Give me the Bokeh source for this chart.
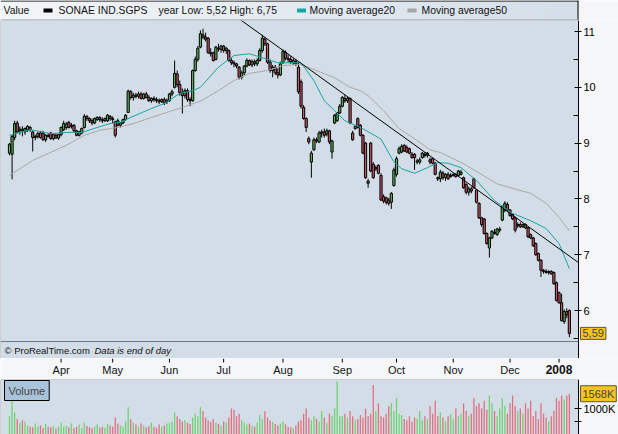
import numpy as np
from bokeh.plotting import figure
from bokeh.models import ColumnDataSource, LinearAxis, FixedTicker, Range1d, Label, BoxAnnotation
from bokeh.layouts import column
from bokeh.embed import file_html
from bokeh.resources import INLINE
from bokeh.core.properties import value

# ---------------- data (daily, 2 Mar 2007 .. 9 Jan 2008, trading-day index) ----------------
instrument = "SONAE IND.SGPS"
year_low, year_high = 5.52, 6.75

open_ = [
    8.82, 8.80, 9.10, 9.36, 9.22, 9.25, 9.20, 9.24, 9.28, 9.20,
    9.10, 9.12, 9.18, 9.18, 9.06, 9.14, 9.18, 9.08, 9.14, 9.09,
    9.15, 9.24, 9.28, 9.37, 9.30, 9.32, 9.22, 9.14, 9.18, 9.28,
    9.48, 9.44, 9.40, 9.36, 9.42, 9.46, 9.42, 9.40, 9.40, 9.48,
    9.44, 9.38, 9.40, 9.32, 9.36, 9.42, 9.55, 9.92, 9.82, 9.86,
    9.84, 9.88, 9.80, 9.88, 9.82, 9.76, 9.80, 9.78, 9.76, 9.74,
    9.78, 9.74, 9.76, 9.88, 10.00, 10.24, 10.05, 9.90, 9.85, 9.94,
    9.78, 9.76, 10.30, 10.50, 10.72, 10.94, 10.90, 10.88, 10.62, 10.62,
    10.50, 10.70, 10.68, 10.74, 10.66, 10.66, 10.48, 10.44, 10.42, 10.36,
    10.18, 10.26, 10.38, 10.48, 10.40, 10.46, 10.42, 10.48, 10.66, 10.86,
    10.78, 10.45, 10.30, 10.36, 10.26, 10.22, 10.44, 10.62, 10.52, 10.50,
    10.44, 10.46, 10.36, 10.10, 9.64, 9.44, 9.08, 8.66, 8.88, 9.06,
    9.02, 9.18, 9.20, 9.16, 9.22, 8.84, 9.36, 9.40, 9.54, 9.66,
    9.80, 9.76, 9.80, 9.18, 9.26, 9.44, 9.32, 9.14, 9.00, 8.32,
    9.00, 8.62, 8.54, 8.60, 8.42, 8.04, 8.02, 7.98, 7.94, 8.24,
    8.44, 8.82, 8.84, 8.96, 8.92, 8.90, 8.80, 8.80, 8.66, 8.66,
    8.74, 8.80, 8.78, 8.70, 8.72, 8.64, 8.38, 8.36, 8.46, 8.38,
    8.44, 8.40, 8.42, 8.44, 8.42, 8.44, 8.38, 8.26, 8.12, 8.18,
    8.36, 8.16, 7.92, 7.66, 7.64, 7.38, 7.12, 7.30, 7.40, 7.36,
    7.44, 7.62, 7.80, 7.90, 7.80, 7.72, 7.66, 7.52, 7.54, 7.50,
    7.54, 7.48, 7.36, 7.30, 7.20, 7.02, 6.90, 6.72, 6.70, 6.68,
    6.70, 6.68, 6.50, 6.32, 6.14, 5.80, 5.98, 6.00,
]
high = [
    9.00, 9.15, 9.40, 9.40, 9.30, 9.30, 9.28, 9.32, 9.31, 9.22,
    9.15, 9.20, 9.22, 9.22, 9.16, 9.18, 9.20, 9.16, 9.17, 9.16,
    9.30, 9.40, 9.38, 9.40, 9.36, 9.34, 9.24, 9.22, 9.28, 9.52,
    9.50, 9.46, 9.44, 9.46, 9.48, 9.48, 9.46, 9.46, 9.52, 9.50,
    9.48, 9.40, 9.44, 9.38, 9.44, 9.52, 9.96, 9.95, 9.90, 9.90,
    9.92, 9.92, 9.90, 9.92, 9.86, 9.82, 9.84, 9.82, 9.80, 9.80,
    9.82, 9.80, 9.90, 9.96, 10.48, 10.30, 10.12, 9.98, 9.98, 9.98,
    9.82, 10.32, 10.55, 10.74, 11.02, 11.05, 10.98, 10.90, 10.70, 10.64,
    10.74, 10.78, 10.76, 10.76, 10.72, 10.68, 10.52, 10.48, 10.44, 10.38,
    10.30, 10.40, 10.52, 10.50, 10.50, 10.50, 10.52, 10.70, 10.94, 10.90,
    10.80, 10.50, 10.40, 10.40, 10.34, 10.46, 10.68, 10.66, 10.58, 10.56,
    10.52, 10.50, 10.44, 10.14, 9.68, 9.46, 9.12, 8.86, 9.10, 9.10,
    9.22, 9.24, 9.26, 9.26, 9.24, 9.06, 9.52, 9.56, 9.70, 9.84,
    9.86, 9.84, 9.82, 9.22, 9.32, 9.46, 9.34, 9.16, 9.02, 8.36,
    9.02, 8.66, 8.60, 8.62, 8.46, 8.08, 8.04, 8.02, 8.12, 8.56,
    8.76, 8.94, 8.98, 8.98, 8.96, 8.92, 8.84, 8.82, 8.72, 8.74,
    8.84, 8.84, 8.84, 8.74, 8.74, 8.66, 8.40, 8.52, 8.50, 8.46,
    8.48, 8.46, 8.46, 8.46, 8.52, 8.52, 8.40, 8.28, 8.22, 8.22,
    8.38, 8.18, 7.94, 7.68, 7.66, 7.40, 7.32, 7.44, 7.46, 7.48,
    7.50, 7.88, 7.96, 7.94, 7.82, 7.74, 7.68, 7.58, 7.58, 7.56,
    7.56, 7.50, 7.38, 7.32, 7.22, 7.04, 6.92, 6.74, 6.74, 6.72,
    6.72, 6.70, 6.52, 6.34, 6.30, 6.02, 6.04, 6.02,
]
low = [
    8.78, 8.35, 9.05, 9.18, 9.15, 9.12, 9.15, 9.20, 9.20, 8.85,
    9.05, 9.08, 9.08, 9.04, 9.02, 9.10, 9.06, 9.05, 9.08, 9.06,
    9.12, 9.22, 9.24, 9.26, 9.26, 9.20, 9.12, 9.12, 9.16, 9.26,
    9.40, 9.36, 9.32, 9.34, 9.40, 9.38, 9.36, 9.38, 9.38, 9.40,
    9.36, 9.10, 9.30, 9.28, 9.34, 9.40, 9.54, 9.78, 9.76, 9.80,
    9.80, 9.78, 9.78, 9.80, 9.74, 9.72, 9.74, 9.72, 9.70, 9.72,
    9.68, 9.70, 9.74, 9.84, 9.98, 10.00, 9.85, 9.53, 9.80, 9.74,
    9.66, 9.74, 10.28, 10.46, 10.70, 10.86, 10.82, 10.60, 10.55, 10.46,
    10.48, 10.64, 10.62, 10.62, 10.60, 10.46, 10.40, 10.36, 10.34, 10.14,
    10.14, 10.22, 10.36, 10.38, 10.36, 10.38, 10.38, 10.46, 10.62, 10.74,
    10.42, 10.26, 10.18, 10.22, 10.16, 10.20, 10.42, 10.48, 10.44, 10.42,
    10.40, 10.38, 9.88, 9.62, 9.42, 9.20, 8.98, 8.38, 8.86, 9.00,
    9.00, 9.10, 9.10, 9.12, 8.98, 8.72, 9.34, 9.38, 9.52, 9.64,
    9.72, 9.72, 9.34, 9.04, 9.24, 9.26, 9.12, 8.80, 8.36, 8.20,
    8.48, 8.36, 8.50, 8.44, 7.96, 7.92, 7.90, 7.88, 7.82, 8.22,
    8.40, 8.80, 8.82, 8.84, 8.82, 8.80, 8.72, 8.52, 8.62, 8.62,
    8.72, 8.74, 8.74, 8.62, 8.62, 8.42, 8.32, 8.30, 8.34, 8.32,
    8.34, 8.38, 8.40, 8.38, 8.40, 8.42, 8.18, 8.08, 8.06, 8.10,
    8.18, 7.92, 7.64, 7.50, 7.36, 7.18, 6.95, 7.28, 7.36, 7.34,
    7.40, 7.60, 7.76, 7.78, 7.68, 7.62, 7.40, 7.48, 7.48, 7.48,
    7.46, 7.30, 7.28, 7.14, 6.98, 6.88, 6.60, 6.66, 6.66, 6.64,
    6.64, 6.46, 6.16, 6.12, 5.80, 5.76, 5.86, 5.52,
]
close = [
    8.98, 9.12, 9.35, 9.20, 9.25, 9.22, 9.26, 9.30, 9.24, 9.10,
    9.12, 9.17, 9.10, 9.06, 9.14, 9.12, 9.08, 9.15, 9.09, 9.15,
    9.28, 9.35, 9.34, 9.28, 9.32, 9.22, 9.14, 9.20, 9.26, 9.48,
    9.44, 9.40, 9.36, 9.44, 9.46, 9.42, 9.40, 9.44, 9.50, 9.44,
    9.42, 9.14, 9.32, 9.36, 9.42, 9.50, 9.93, 9.82, 9.86, 9.84,
    9.88, 9.80, 9.88, 9.82, 9.76, 9.80, 9.78, 9.76, 9.74, 9.78,
    9.72, 9.76, 9.88, 9.92, 10.25, 10.05, 9.90, 9.85, 9.94, 9.78,
    9.76, 10.30, 10.50, 10.70, 10.96, 10.90, 10.86, 10.62, 10.60, 10.48,
    10.72, 10.68, 10.74, 10.66, 10.70, 10.48, 10.44, 10.42, 10.38, 10.18,
    10.26, 10.38, 10.48, 10.40, 10.46, 10.42, 10.48, 10.66, 10.88, 10.78,
    10.45, 10.30, 10.36, 10.26, 10.22, 10.42, 10.64, 10.52, 10.50, 10.46,
    10.48, 10.42, 9.92, 9.66, 9.44, 9.28, 9.02, 8.82, 9.06, 9.04,
    9.18, 9.20, 9.14, 9.22, 9.02, 9.04, 9.50, 9.54, 9.66, 9.82,
    9.76, 9.80, 9.36, 9.06, 9.30, 9.28, 9.14, 8.82, 8.38, 8.28,
    8.50, 8.38, 8.56, 8.46, 7.98, 7.96, 7.94, 7.92, 8.10, 8.52,
    8.72, 8.90, 8.94, 8.86, 8.84, 8.82, 8.74, 8.74, 8.68, 8.70,
    8.82, 8.78, 8.82, 8.66, 8.64, 8.44, 8.36, 8.48, 8.38, 8.44,
    8.36, 8.42, 8.44, 8.40, 8.50, 8.48, 8.20, 8.12, 8.18, 8.14,
    8.20, 7.94, 7.66, 7.54, 7.38, 7.20, 7.30, 7.42, 7.38, 7.46,
    7.46, 7.86, 7.92, 7.80, 7.70, 7.64, 7.44, 7.54, 7.50, 7.54,
    7.48, 7.32, 7.30, 7.16, 7.00, 6.90, 6.72, 6.70, 6.68, 6.70,
    6.66, 6.48, 6.18, 6.14, 5.82, 5.98, 5.92, 5.59,
]
volume_k = [
    700, 1400, 850, 600, 450, 550, 500, 350, 300, 280, 420, 300, 350, 250, 400, 300, 280, 330, 220, 300,
    450, 300, 350, 280, 420, 250, 300, 380, 260, 450, 330, 280, 240, 300, 380, 260, 300, 250, 400, 350,
    300, 650, 420, 350, 300, 500, 1050, 600, 450, 380, 300, 420, 350, 280, 320, 450, 300, 260, 380, 300, 350, 420,
    450, 500, 850, 700, 600, 500, 550, 450, 400, 650, 800, 700, 1050, 900, 650, 550, 480, 600, 450, 400, 350,
    500, 450, 650, 1000, 950, 700, 800, 550, 450, 380, 420, 350, 300, 450, 750, 600, 900, 650, 550, 480, 400, 350,
    420, 500, 380, 300, 280, 250, 350, 500, 550, 800, 1000, 650, 550, 700, 600, 500, 900, 650, 450, 800, 700, 1000, 2050,
    700, 700, 800, 650, 900, 700, 550, 600, 750, 650, 1000, 700, 800, 1900, 900, 1200, 700, 650, 800, 1100,
    1200, 900, 1400, 800, 750, 600, 550, 700, 500, 650, 600, 900, 550, 700, 600, 1100, 800, 1300, 700, 850, 650, 500, 700,
    800, 600, 1000, 700, 800, 1200, 900, 700, 800, 1400, 1100, 1200, 1000, 1300, 950, 1500, 1200, 900, 700, 1000, 1400, 1100,
    800, 1200, 1500, 1100, 900, 1000, 800, 1200, 1000, 1300, 700, 900, 600, 1200, 800, 650, 500, 700, 900,
    1400, 1300, 1500, 1350, 1500, 1568,
]
# moving averages (trading-day index, value)
ma20_idx = [0, 8, 16, 22, 28, 34, 39, 43, 47, 55, 60, 66, 71, 74, 81, 87, 93, 98, 104, 109,
            113, 118, 122, 126, 130, 136, 140, 144, 149, 152, 157, 162, 166, 170, 175, 181,
            188, 195, 202, 208, 213, 217]
ma20_val = [9.14, 9.24, 9.17, 9.19, 9.19, 9.28, 9.35, 9.37, 9.46, 9.62, 9.71, 9.89, 9.94, 10.00,
            10.36, 10.57, 10.60, 10.53, 10.44, 10.44, 10.44, 10.12, 9.76, 9.58, 9.40, 9.28, 9.18,
            9.07, 8.66, 8.54, 8.46, 8.56, 8.65, 8.64, 8.56, 8.33, 7.97, 7.74, 7.61, 7.47, 7.20, 6.75]
ma50_idx = [0, 9, 22, 29, 35, 42, 48, 55, 61, 67, 74, 81, 87, 93, 100, 106, 113, 119, 126, 132,
            136, 139, 145, 151, 157, 163, 167, 176, 189, 195, 202, 208, 213, 217]
ma50_val = [8.42, 8.69, 8.96, 9.14, 9.23, 9.28, 9.35, 9.46, 9.55, 9.64, 9.75, 9.94, 10.12, 10.25,
            10.30, 10.39, 10.41, 10.30, 10.17, 10.00, 9.94, 9.85, 9.58, 9.26, 9.08, 8.88, 8.83,
            8.63, 8.27, 8.19, 8.10, 7.92, 7.67, 7.43]
# hand-drawn trend line
trend_idx = [89.5, 220.5]
trend_val = [11.21, 6.86]
# x-axis labels (trading-day index of month start)
month_idx = [20, 40, 62, 83, 106, 129, 150, 172, 194]
month_lbl = ["Apr", "May", "Jun", "Jul", "Aug", "Sep", "Oct", "Nov", "Dec"]
year_idx = [213]
year_lbl = ["2008"]
price_ticks = [6, 7, 8, 9, 10, 11]
price_minor = [5.5, 6.5, 7.5, 8.5, 9.5, 10.5]
vol_ticks = [500, 1000]

# ---------------- layout / style ----------------
W = 618
FW = 578                      # width of the framed chart area (px)
PXD = 2.58                    # px per trading day
H_HEAD, H_PRICE, H_MONTH, H_VOL = 20, 338, 21, 55
X0 = -9 / PXD
X1 = X0 + FW / PXD            # right edge of the chart frame (index units)
XE = X0 + W / PXD             # right edge of the whole canvas (index units)
PPU = 55.8                    # px per price unit
Y1 = 6 + 290 / PPU
Y0 = Y1 - H_PRICE / PPU
STRIP_TOP = 6 - 31 / PPU
VMAX = H_VOL / 26.0 * 1000
FONT = "Liberation Sans"
PLOT_BG = "#d3dde7"
PAGE_BG = "#f5f6f8"
UP, DOWN = "#5fb35f", "#c4586a"
VUP, VDOWN = "#6fd36f", "#e0707f"
MA20_C, MA50_C = "#1aa3a3", "#a8a8a8"
YELLOW = "#f6c41c"

N = min(map(len, [open_, high, low, close, volume_k]))
xi = np.arange(N)
o = np.array(open_[:N]); c = np.array(close[:N])
up = c >= o
src = ColumnDataSource(dict(
    x=xi, top=np.maximum(o, c), bottom=np.minimum(o, c),
    high=high[:N], low=low[:N], color=np.where(up, UP, DOWN),
    vol=volume_k[:N], vcolor=np.where(up, VUP, VDOWN)))


def base_fig(height, x_range, y_range):
    f = figure(width=W, height=height, x_range=x_range, y_range=y_range,
               output_backend="svg", toolbar_location=None,
               x_axis_location=None, y_axis_location=None,
               min_border_left=0, min_border_right=0, min_border_top=0, min_border_bottom=0,
               background_fill_color=PAGE_BG, border_fill_color=PAGE_BG, outline_line_color=None)
    f.grid.visible = False
    return f


def right_axis(ticks, minor, overrides=None):
    ax = LinearAxis(ticker=FixedTicker(ticks=ticks, minor_ticks=minor), fixed_location=X1,
                    major_label_text_font=FONT, major_label_text_font_size="11px",
                    major_label_text_color="black", axis_line_color="black",
                    major_tick_line_color="black", minor_tick_line_color="black",
                    major_tick_in=4, major_tick_out=3, minor_tick_in=5, minor_tick_out=0,
                    major_label_standoff=2)
    if overrides:
        ax.major_label_overrides = overrides
    return ax


def tag(x, y, text):
    return Label(x=x, y=y, x_offset=2, text=text, text_font=FONT, text_font_size="11px",
                 text_baseline="middle", background_fill_color=YELLOW,
                 border_line_color="#555555", padding=2)


# ---------- header (legend bar) ----------
head = base_fig(H_HEAD, Range1d(0, W), Range1d(0, H_HEAD))
ng = 96
t = np.linspace(0, 1, ng)
img = np.empty((1, ng), dtype=np.uint32)
view = img.view(dtype=np.uint8).reshape((1, ng, 4))
view[0, :, 0] = (243 - 30 * t).astype(np.uint8)
view[0, :, 1] = (246 - 23 * t).astype(np.uint8)
view[0, :, 2] = (249 - 16 * t).astype(np.uint8)
view[0, :, 3] = 255
head.image_rgba(image=[img], x=0, y=0, dw=FW, dh=H_HEAD)
head.segment(x0=[0, FW - 0.5], y0=[H_HEAD - 0.5, 0], x1=[FW, FW - 0.5], y1=[H_HEAD - 0.5, H_HEAD],
             line_color="black", line_width=1)
head.segment(x0=[0], y0=[0.5], x1=[FW], y1=[0.5], line_color="#8c98a4", line_width=1)
head.text(x=[3, 58, 158, 309, 421], y=[10] * 5,
          text=["Value", instrument,
                f"year Low: {year_low:.2f} High: {year_high:.2f}".replace(".", ","),
                "Moving average20", "Moving average50"],
          text_font=value(FONT), text_font_size="10.4px", text_baseline="middle", text_color="#111111")
head.rect(x=[47.5, 301, 411.5], y=[10] * 3, width=9, height=4,
          fill_color=["black", MA20_C, MA50_C], line_color=None)

# ---------- price panel ----------
xr = Range1d(X0, XE)
p = base_fig(H_PRICE, xr, Range1d(Y0, Y1))
p.add_layout(BoxAnnotation(right=X1, fill_color=PLOT_BG, fill_alpha=1.0,
                           line_color="black", line_width=1, level="underlay"))
p.segment(x0=[X0], y0=[STRIP_TOP], x1=[X1], y1=[STRIP_TOP], line_color="#6f7a86", line_width=1)
p.segment(x0="x", y0="low", x1="x", y1="high", source=src, line_color="black", line_width=1)
p.vbar(x="x", width=0.85, top="top", bottom="bottom", source=src,
       fill_color="color", line_color="black", line_width=1)
p.line(ma50_idx, ma50_val, line_color=MA50_C, line_width=1)
p.line(ma20_idx, ma20_val, line_color=MA20_C, line_width=1)
p.line(trend_idx, trend_val, line_color="black", line_width=1)
p.add_layout(right_axis(price_ticks, price_minor), "right")

strip_mid = (Y0 + STRIP_TOP) / 2
p.add_layout(Label(x=X0, y=strip_mid, x_offset=4, text="\u00a9 ProRealTime.com",
                   text_font=FONT, text_font_size="9.5px", text_baseline="middle", text_color="#111111"))
p.add_layout(Label(x=X0, y=strip_mid, x_offset=94, text="Data is end of day",
                   text_font=FONT, text_font_size="9.5px", text_font_style="italic",
                   text_baseline="middle", text_color="#111111"))
p.add_layout(tag(X1, close[N - 1], f"{close[N - 1]:.2f}".replace(".", ",")))

# ---------- month axis strip ----------
m = base_fig(H_MONTH, xr, Range1d(0, H_MONTH))
tick_idx = month_idx + year_idx
m.segment(x0=tick_idx, y0=[H_MONTH] * len(tick_idx), x1=tick_idx, y1=[H_MONTH - 4] * len(tick_idx),
          line_color="black", line_width=1)
m.text(x=month_idx, y=[10] * len(month_idx), text=month_lbl, text_font=value(FONT),
       text_font_size="11px", text_align="center", text_baseline="middle", text_color="#111111")
m.text(x=year_idx, y=[10], text=year_lbl, text_font=value(FONT), text_font_style="bold",
       text_font_size="12px", text_align="center", text_baseline="middle", text_color="#111111")

# ---------- volume panel ----------
v = base_fig(H_VOL, xr, Range1d(0, VMAX))
v.add_layout(BoxAnnotation(right=X1, fill_color=PLOT_BG, fill_alpha=1.0,
                           line_color="black", line_width=1, level="underlay"))
v.vbar(x="x", width=0.5, top="vol", bottom=0, source=src, fill_color="vcolor", line_color=None)
v.add_layout(right_axis(vol_ticks, [], {500: "", 1000: "1000K"}), "right")
v.add_layout(tag(X1, volume_k[N - 1], f"{volume_k[N - 1]}K"))
v.add_layout(Label(x=X0, y=VMAX, x_offset=4, y_offset=-1, text="Volume",
                   text_font=FONT, text_font_size="11px", text_baseline="top",
                   background_fill_color="#a9c4da", border_line_color="black", padding=4))

layout = column(head, p, m, v, spacing=0)
open("out.html", "w").write(file_html(layout, INLINE))
